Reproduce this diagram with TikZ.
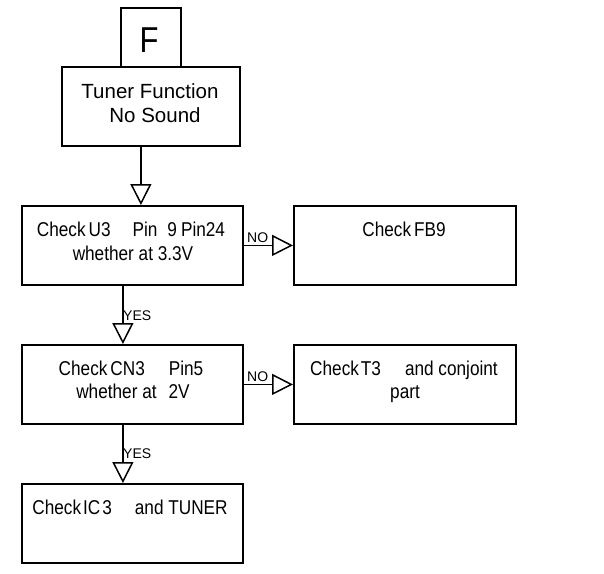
\documentclass[tikz,border=0pt]{standalone}
\usepackage{fontspec}
\setmainfont{Liberation Sans}
\newfontfamily\condf[FakeStretch=0.86]{Liberation Sans}
\usetikzlibrary{arrows.meta}
\begin{document}
\begin{tikzpicture}[x=1pt,y=-1pt,
  box/.style={draw, line width=1.8pt, inner sep=0pt, anchor=north west},
  txt/.style={anchor=base, inner sep=0pt, font=\condf\fontsize{20}{24}\selectfont},
  ttxt/.style={anchor=base, inner sep=0pt, font=\fontsize{20.5}{24}\selectfont},
  lbl/.style={anchor=base west, inner sep=0pt, font=\fontsize{14}{16}\selectfont},
  arr/.style={line width=1.5pt, -{Triangle[open, length=21pt, width=21pt, line width=1.5pt]}}]
\useasboundingbox[fill=white] (0,0) rectangle (604,573);

% boxes
\node[box, minimum width=60pt, minimum height=59pt] (F) at (120,7) {};
\node[box, minimum width=178pt, minimum height=79pt] (tuner) at (61,66) {};
\node[box, minimum width=221pt, minimum height=79pt] (b1) at (21,205) {};
\node[box, minimum width=222pt, minimum height=79pt] (fb9) at (293,205) {};
\node[box, minimum width=221pt, minimum height=79pt] (b2) at (21,344) {};
\node[box, minimum width=222pt, minimum height=79pt] (t3) at (293,344) {};
\node[box, minimum width=221pt, minimum height=79pt] (b4) at (21,483) {};

% texts
\node[anchor=base, inner sep=0pt, font=\condf\fontsize{36}{40}\selectfont] (Ft) at (149,52) {F};
\node[ttxt] (tu1) at (150,98) {Tuner Function};
\node[ttxt] (tu2) at (155,122) {No Sound};
\node[txt] (b1a) at (131,236) {Check\hspace{3pt}U3\hspace{22pt}Pin\hspace{10pt}9\hspace{4pt}Pin24};
\node[txt] (b1b) at (133,260) {whether at 3.3V};
\node[txt] (fb9a) at (404,236) {Check\hspace{3pt}FB9};
\node[txt] (b2a) at (131,375) {Check\hspace{3pt}CN3\hspace{24pt}Pin5};
\node[txt] (b2b) at (133,398) {whether at\hspace{12pt}2V};
\node[txt] (t3a) at (404,375) {Check\hspace{2pt}T3\hspace{24pt}and conjoint};
\node[txt] (t3b) at (405,398) {part};
\node[txt] (b4a) at (130,514) {Check\hspace{2pt}IC\hspace{2pt}3\hspace{23pt}and TUNER};

% connectors
\draw[arr] ([xshift=-10pt]tuner.south) -- ([xshift=-10pt]tuner.south |- b1.north);
\draw[arr] ([xshift=-9.5pt]b1.south) -- ([xshift=-9.5pt]b1.south |- b2.north);
\draw[arr] ([xshift=-9.5pt]b2.south) -- ([xshift=-9.5pt]b2.south |- b4.north);
\draw[arr] (b1.east) -- (b1.east -| fb9.west);
\draw[arr] (b2.east) -- (b2.east -| t3.west);

% labels
\node[lbl] (no1) at (247,242) {NO};
\node[lbl] (no2) at (247,381) {NO};
\node[lbl] (yes1) at (123,320) {YES};
\node[lbl] (yes2) at (123,458) {YES};
\end{tikzpicture}
\end{document}
